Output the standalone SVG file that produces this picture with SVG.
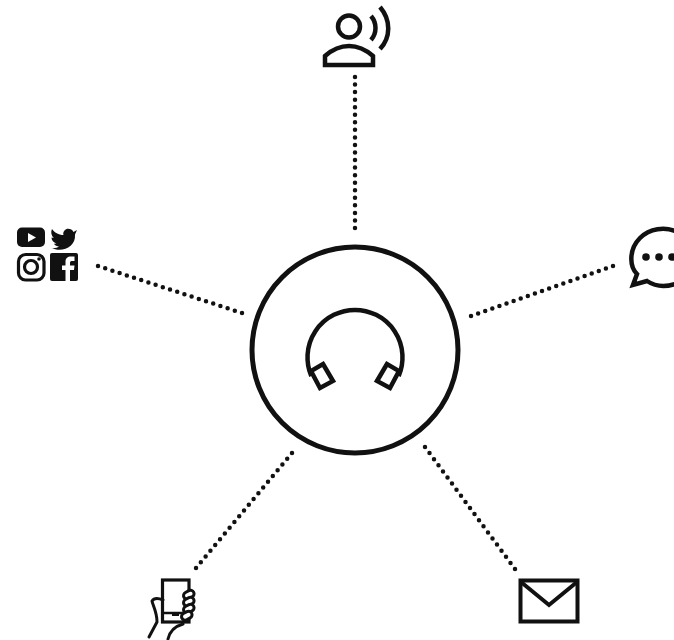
<svg xmlns="http://www.w3.org/2000/svg" width="674" height="640" viewBox="0 0 674 640">
<style>
.s{fill:none;stroke:#111;stroke-width:4.500;stroke-linejoin:miter}
.t{fill:none;stroke:#111;stroke-width:3;stroke-linecap:round;stroke-linejoin:round}
.k{fill:#111}
.d{fill:none;stroke:#111;stroke-width:4.500;stroke-linecap:round}
</style>
<rect width="674" height="640" fill="#fff"/>
<g id="connectors">
<line class="d" stroke-dasharray="0 7.55" x1="355" y1="77" x2="355" y2="228.500"/>
<line class="d" stroke-dasharray="0 7.574" x1="98" y1="266" x2="242.500" y2="313.150"/>
<line class="d" stroke-dasharray="0 7.527" x1="613" y1="266" x2="470.500" y2="316.200"/>
<line class="d" stroke-dasharray="0 7.49" x1="292" y1="453" x2="195.700" y2="568.400"/>
<line class="d" stroke-dasharray="0 7.58" x1="425" y1="447" x2="515.300" y2="569.400"/>
</g>
<g id="hub">
<circle cx="355" cy="350" r="103" fill="none" stroke="#111" stroke-width="5"/>
<path class="s" d="M311.300 376A47.500 47.500 0 1 1 398.700 376"/>
<path class="s" d="M323 364L333 381L320 388L311 371Z"/>
<path class="s" d="M387 364L377 381L390 388L399 371Z"/>
</g>
<g id="person">
<circle class="s" cx="349" cy="26.500" r="11"/>
<path class="s" d="M325 65V56C333 49 341 46 349 46C357 46 365 49 373 56V65Z"/>
<path class="s" d="M371 16C377 23 377 33 371 40"/>
<path class="s" d="M380 7C391 20 391 37 380 49"/>
</g>
<g id="social">
<rect class="k" x="17" y="227.500" width="28" height="19.500" rx="5"/>
<path d="M28 233L36 237.500L28 242Z" fill="#fff"/>
<path class="k" d="M77 230L73.500 232C72 229 67 227.500 64.500 230.500C63 232 63 234 63.500 235C58.500 235 54.500 232.500 52 229C50.500 232 51.500 236 54 238L51.500 237.500C51.500 240.500 53.500 242.500 56.500 243.500L54 243.700C55 245.500 57 246.500 59 246.500C57 248 54 248.500 51.500 248C62 253 76 247 75 234.500Z"/>
<rect x="18.500" y="254.500" width="25.500" height="25.500" rx="7" fill="none" stroke="#111" stroke-width="3.200"/>
<circle cx="31" cy="267" r="6.500" fill="none" stroke="#111" stroke-width="3.200"/>
<circle class="k" cx="39" cy="259" r="1.800"/>
<rect class="k" x="50" y="253" width="28" height="28" rx="2"/>
<path d="M65.500 281V270H62V265.500H65.500V261.500C65.500 258.500 67.500 256.500 71 256.500H74.500V261H72C71 261 70 261.500 70 262.500V265.500H74.500L74 270H70V281Z" fill="#fff"/>
</g>
<g id="chat">
<path class="s" d="M675 231C665 227 650 228 640 238C629 249 629 266 637 274L633 285L647 281C656 287 666 287 675 284"/>
<circle class="k" cx="646" cy="257" r="3.800"/>
<circle class="k" cx="659" cy="257" r="3.800"/>
<circle class="k" cx="672" cy="257" r="3.800"/>
</g>
<g id="phone">
<rect x="162.500" y="580" width="26.500" height="42" fill="none" stroke="#111" stroke-width="3.200"/>
<path d="M163 613H189" stroke="#111" stroke-width="2.500"/>
<rect class="k" x="172" y="613" width="7" height="3"/>
<path class="t" d="M149 637L157 622C157 612 153 606 152 601C154 598 158 598 163 600"/>
<path class="t" d="M168 639C170 630 176 626 183 624"/>
<rect x="183" y="591" width="11" height="7" rx="3.500" transform="rotate(-28 189 594)" fill="#fff" stroke="#111" stroke-width="3"/>
<rect x="183" y="598" width="11" height="7" rx="3.500" transform="rotate(-28 189 601)" fill="#fff" stroke="#111" stroke-width="3"/>
<rect x="183" y="605" width="11" height="7" rx="3.500" transform="rotate(-28 189 608)" fill="#fff" stroke="#111" stroke-width="3"/>
<rect x="181" y="612" width="11" height="7" rx="3.500" transform="rotate(-28 187 615)" fill="#fff" stroke="#111" stroke-width="3"/>
</g>
<g id="mail">
<rect x="520.500" y="580.500" width="57" height="41" fill="none" stroke="#111" stroke-width="4"/>
<path d="M521 582L549 605L577 582" fill="none" stroke="#111" stroke-width="4"/>
</g>
</svg>
